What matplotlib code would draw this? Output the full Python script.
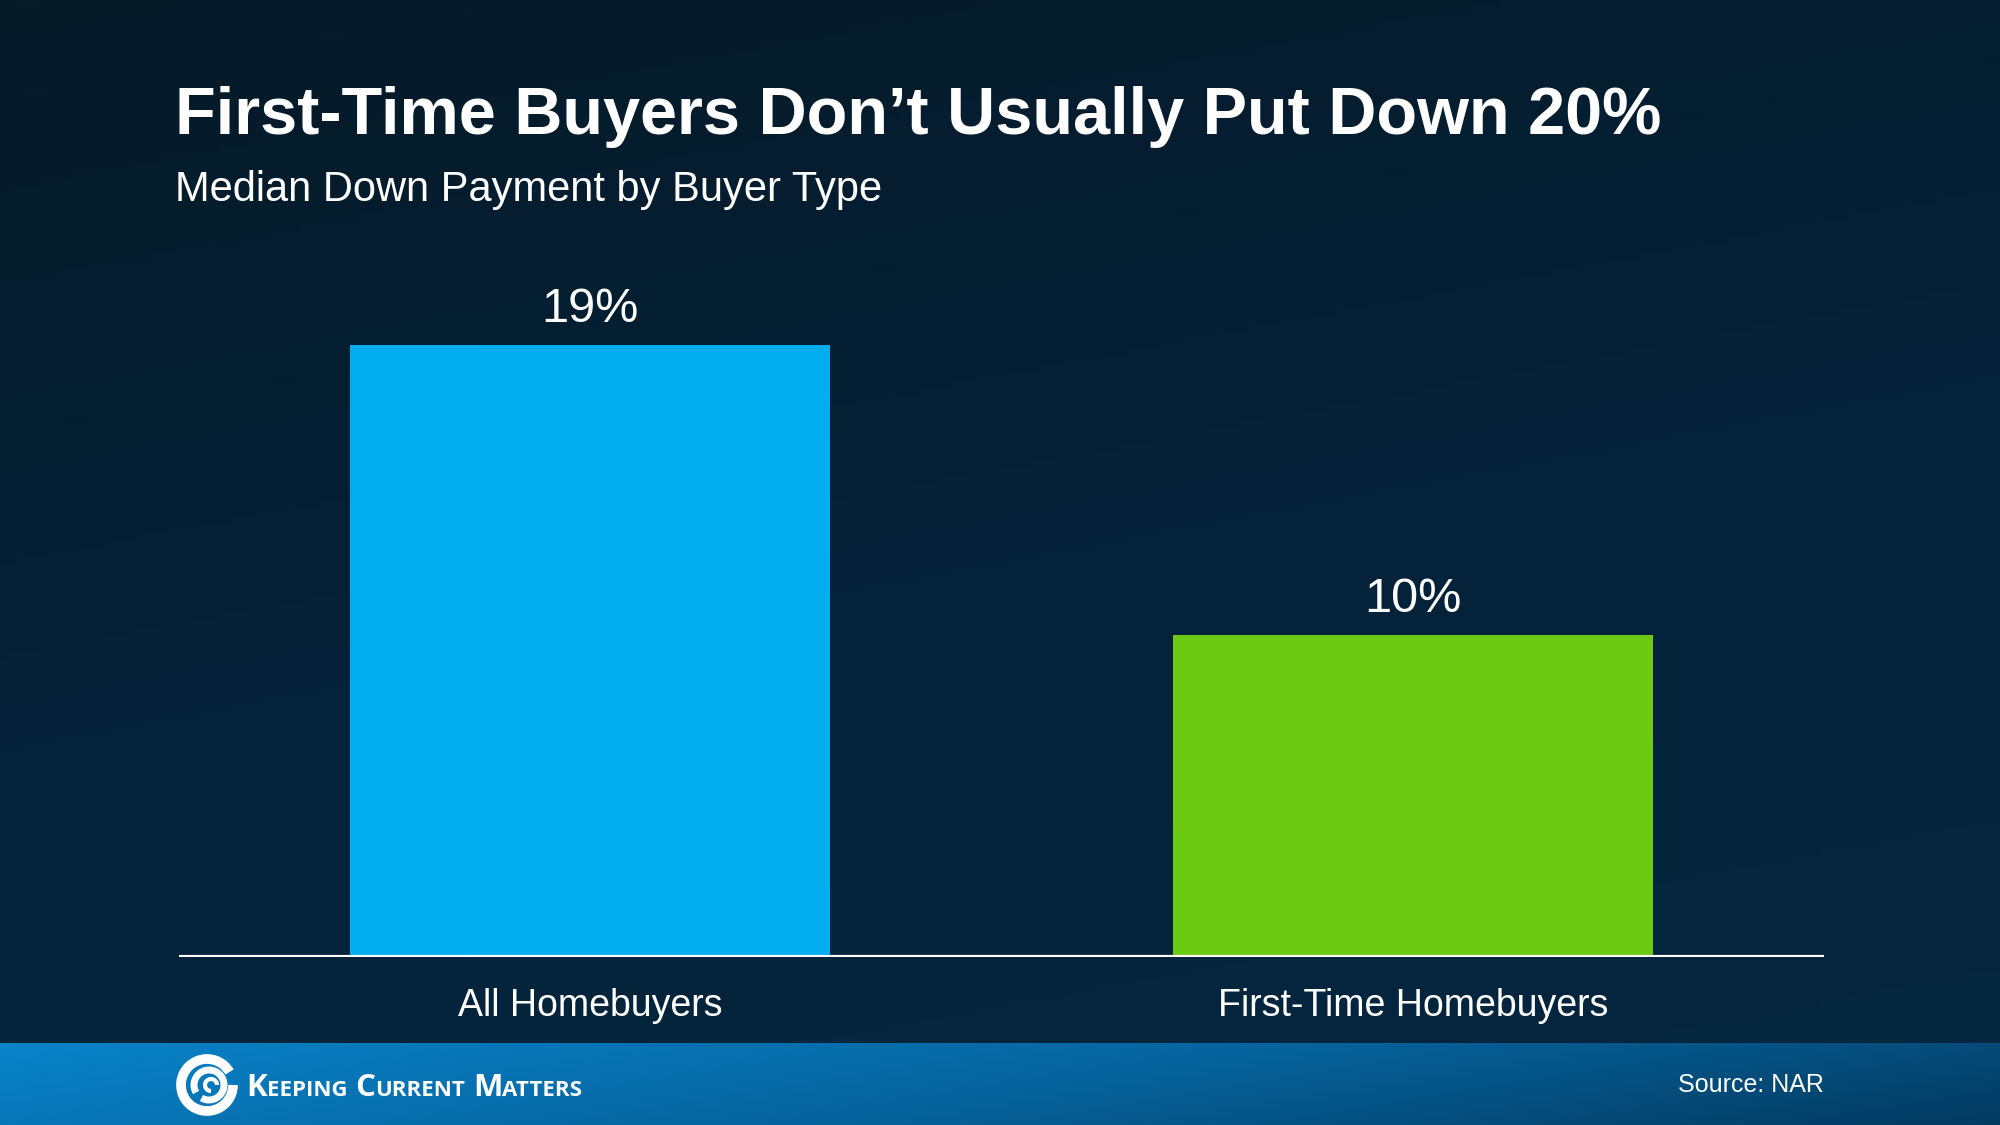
import matplotlib as mpl
mpl.use('Agg')
import matplotlib.pyplot as plt
import numpy as np
from matplotlib.patches import Arc
from matplotlib.colors import LinearSegmentedColormap

plt.rcParams['font.family'] = ['Liberation Sans', 'DejaVu Sans']

categories = ['All Homebuyers', 'First-Time Homebuyers']
values = [19, 10]
labels = ['19%', '10%']
bar_colors = ['#00aeef', '#6cc914']

title = 'First-Time Buyers Don\u2019t Usually Put Down 20%'
subtitle = 'Median Down Payment by Buyer Type'
source = 'Source: NAR'

W, H = 2000, 1125
fig = plt.figure(figsize=(20, 11.25), dpi=100)

# background gradient
bg = fig.add_axes([0, 0, 1, 1])
bg.axis('off')
yy, xx = np.mgrid[0:1:200j, 0:1:200j]
t = 0.75 * yy + 0.25 * xx
cmap = LinearSegmentedColormap.from_list('bg', ['#061a27', '#04223a', '#05273f'])
bg.imshow(t, cmap=cmap, extent=[0, W, H, 0], aspect='auto', zorder=0)
# footer band
tf = 0.8 * xx + 0.2 * yy
fcmap = LinearSegmentedColormap.from_list('ft', ['#0983c9', '#06659f', '#033a60'])
bg.imshow(tf, cmap=fcmap, extent=[0, W, H, 1043], aspect='auto', zorder=1)
bg.set_xlim(0, W)
bg.set_ylim(H, 0)

bg.text(175, 134, title, color='white', fontsize=48, fontweight='bold',
        va='baseline', ha='left', zorder=3)
bg.text(175, 201, subtitle, color='white', fontsize=30,
        va='baseline', ha='left', zorder=3)
bg.text(1824, 1085, source, color='white', fontsize=18,
        va='center', ha='right', zorder=3)

# logo spiral
cx, cy = 207, 1085
bg.add_patch(Arc((cx, cy), 52, 52, theta1=0, theta2=330, lw=7, color='white', zorder=3))
bg.add_patch(Arc((cx + 2, cy), 30, 30, theta1=150, theta2=480, lw=5, color='white', zorder=3))
bg.add_patch(Arc((cx + 4, cy), 12, 12, theta1=90, theta2=360, lw=3, color='white', zorder=3))

# logo text with small caps
renderer = fig.canvas.get_renderer()
x = 246
words = [('K', 'EEPING'), ('C', 'URRENT'), ('M', 'ATTERS')]
for big, small in words:
    for s, fs in [(big, 22.5), (small, 16)]:
        tx = bg.text(x, 1096, s, color='white', fontsize=fs, fontweight='bold',
                     family=['Open Sans', 'DejaVu Sans'], va='baseline', ha='left', zorder=3)
        bb = tx.get_window_extent(renderer=renderer)
        x += bb.width
    x += 8

# bar chart
ax = fig.add_axes([179 / W, 1 - 957 / H, (1824 - 179) / W, (957 - 200) / H])
ax.set_facecolor('none')
pos = np.arange(len(categories))
ax.bar(pos, values, width=0.584, color=bar_colors, zorder=2)
ax.set_xlim(-0.5, 1.5)
ax.set_ylim(0, 23.5)
for p, v, l in zip(pos, values, labels):
    ax.text(p, v + 0.4, l, ha='center', va='bottom', color='white', fontsize=35)
ax.axhline(0, color='white', lw=3, zorder=3)
for s in ax.spines.values():
    s.set_visible(False)
ax.set_yticks([])
ax.set_xticks(pos)
ax.set_xticklabels(categories, color='white', fontsize=27)
ax.tick_params(axis='x', length=0, pad=22)

fig.savefig('out.png', dpi=100)
